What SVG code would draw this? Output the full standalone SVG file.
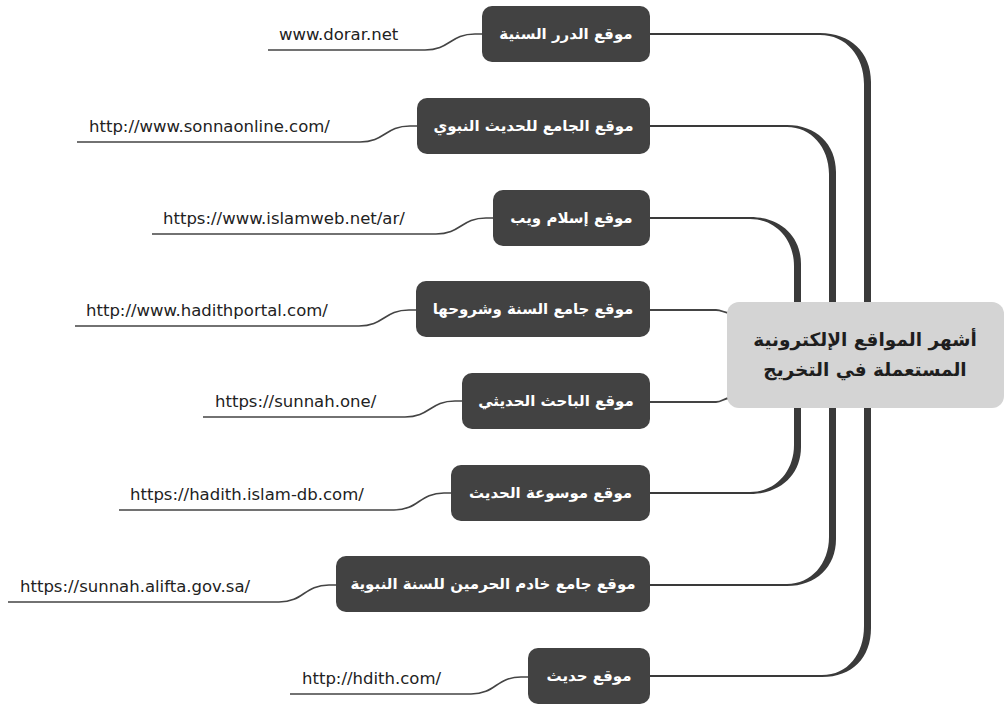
<svg xmlns="http://www.w3.org/2000/svg" width="1006" height="704" viewBox="0 0 1006 704">
<style>
.bg{fill:#ffffff}
.box{fill:#424242}
.btxt{fill:#ffffff;font-family:"DejaVu Sans",sans-serif;font-size:15px;font-weight:bold;text-anchor:middle;dominant-baseline:central}
.url{fill:#222222;font-family:"DejaVu Sans",sans-serif;font-size:16.5px}
.uline{fill:none;stroke:#444444;stroke-width:1.6}
.thin{fill:none;stroke:#444444;stroke-width:1.8}
.br{fill:#3a3a3a}
.center{fill:#d4d4d4}
.ctxt{fill:#1e1e1e;font-family:"DejaVu Sans",sans-serif;font-size:18.5px;font-weight:bold;text-anchor:middle}
</style>
<rect class="bg" width="1006" height="704"/>
<g id="connectors">
  <path class="br" d="M650,33 L820,33 C850,33 871,52 871,82 L871,304 L864,304 L864,84 C864,56 846,35 820,35 L650,35 Z"/>
  <path class="br" d="M650,677 L822,677 C852,677 871,658 871,628 L871,406 L864,406 L864,626 C864,654 848,675 822,675 L650,675 Z"/>
  <path class="br" d="M650,125 L787,125 C816,125 836,144 836,172 L836,304 L829,304 L829,174 C829,147 811,127 787,127 L650,127 Z"/>
  <path class="br" d="M650,586 L787,586 C816,586 836,567 836,539 L836,406 L829,406 L829,537 C829,564 811,584 787,584 L650,584 Z"/>
  <path class="br" d="M650,217 L750,217 C780,217 801,236 801,264 L801,304 L794,304 L794,266 C794,239 775,219 750,219 L650,219 Z"/>
  <path class="br" d="M650,494 L750,494 C780,494 801,475 801,447 L801,406 L794,406 L794,445 C794,472 775,492 750,492 L650,492 Z"/>
  <path class="thin" d="M650,310 L716,310 C722,310 724,313 730,313"/>
  <path class="thin" d="M650,402 L716,402 C722,402 724,398 730,398"/>
  <path class="uline" d="M268,50 L425,50 C450,50 450,34 475,34 L482,34"/>
  <path class="uline" d="M77,142 L360,142 C385,142 385,126 410,126 L417,126"/>
  <path class="uline" d="M152,234 L436,234 C461,234 461,218 486,218 L493,218"/>
  <path class="uline" d="M75,326 L359,326 C384,326 384,310 409,310 L416,310"/>
  <path class="uline" d="M203,417 L405,417 C430,417 430,401 455,401 L462,401"/>
  <path class="uline" d="M119,510 L394,510 C419,510 419,493 444,493 L451,493"/>
  <path class="uline" d="M8,602 L279,602 C304,602 304,585 329,585 L336,585"/>
  <path class="uline" d="M290,694 L471,694 C496,694 496,677 521,677 L528,677"/>
</g>
<g id="center">
  <rect class="center" x="727" y="302" width="277" height="106" rx="12"/>
  <text class="ctxt" x="865" y="346" direction="rtl">أشهر المواقع الإلكترونية</text>
  <text class="ctxt" x="865" y="376" direction="rtl">المستعملة في التخريج</text>
</g>
<g id="n1"><rect class="box" x="482" y="6" width="168" height="56" rx="10"/><text class="btxt" x="566" y="34" direction="rtl">موقع الدرر السنية</text><text class="url" x="279" y="40">www.dorar.net</text></g>
<g id="n2"><rect class="box" x="417" y="98" width="233" height="56" rx="10"/><text class="btxt" x="533.5" y="126" direction="rtl">موقع الجامع للحديث النبوي</text><text class="url" x="89" y="132">http://www.sonnaonline.com/</text></g>
<g id="n3"><rect class="box" x="493" y="190" width="157" height="56" rx="10"/><text class="btxt" x="571.5" y="218" direction="rtl">موقع إسلام ويب</text><text class="url" x="163" y="224">https://www.islamweb.net/ar/</text></g>
<g id="n4"><rect class="box" x="416" y="281" width="234" height="56" rx="10"/><text class="btxt" x="533" y="309" direction="rtl">موقع جامع السنة وشروحها</text><text class="url" x="86" y="316">http://www.hadithportal.com/</text></g>
<g id="n5"><rect class="box" x="462" y="373" width="188" height="56" rx="10"/><text class="btxt" x="556" y="401" direction="rtl">موقع الباحث الحديثي</text><text class="url" x="215" y="407">https://sunnah.one/</text></g>
<g id="n6"><rect class="box" x="451" y="465" width="199" height="56" rx="10"/><text class="btxt" x="550.5" y="493" direction="rtl">موقع موسوعة الحديث</text><text class="url" x="130" y="500">https://hadith.islam-db.com/</text></g>
<g id="n7"><rect class="box" x="336" y="556" width="314" height="56" rx="10"/><text class="btxt" x="493" y="584" direction="rtl">موقع جامع خادم الحرمين للسنة النبوية</text><text class="url" x="20" y="592">https://sunnah.alifta.gov.sa/</text></g>
<g id="n8"><rect class="box" x="528" y="648" width="122" height="56" rx="10"/><text class="btxt" x="589" y="676" direction="rtl">موقع حديث</text><text class="url" x="302" y="684">http://hdith.com/</text></g>
</svg>
